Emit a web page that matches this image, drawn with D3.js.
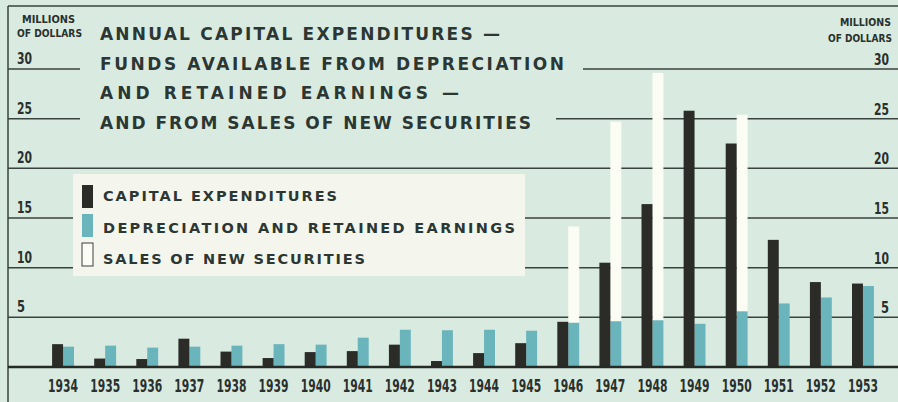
<!DOCTYPE html>
<html>
<head>
<meta charset="utf-8">
<script src="https://cdn.jsdelivr.net/npm/d3@7.9.0/dist/d3.min.js"></script>
<style>
  html, body { margin: 0; padding: 0; background: #d9ebe1; }
  svg { display: block; }
  .num { font-family: "Liberation Sans Narrow", "DejaVu Sans Condensed", sans-serif; font-weight: bold; fill: #2a302d; }
  .caps { font-family: "DejaVu Sans", "Open Sans", sans-serif; font-weight: bold; fill: #2c3733; }
</style>
</head>
<body>
<svg id="chart" width="898" height="402"></svg>
<script>
// values (millions of dollars)
const years = ['1934', '1935', '1936', '1937', '1938', '1939', '1940', '1941', '1942', '1943',
               '1944', '1945', '1946', '1947', '1948', '1949', '1950', '1951', '1952', '1953'];
const capitalExpenditures = [2.3, 0.85, 0.8, 2.85, 1.55, 0.9, 1.5, 1.6, 2.25, 0.6,
                             1.4, 2.4, 4.55, 10.5, 16.4, 25.8, 22.5, 12.8, 8.55, 8.4];
const depreciationRetained = [2.05, 2.15, 1.95, 2.05, 2.15, 2.3, 2.25, 2.95, 3.75, 3.7,
                              3.75, 3.65, 4.45, 4.6, 4.7, 4.35, 5.6, 6.4, 7.0, 8.15];
const newSecurities = [0, 0, 0, 0, 0, 0, 0, 0, 0, 0,
                       0, 0, 9.7, 20.1, 24.9, 0, 19.8, 0, 0, 0];
const yTicks = [5, 10, 15, 20, 25, 30];
const titleLines = [
  'ANNUAL CAPITAL EXPENDITURES \u2014',
  'FUNDS AVAILABLE FROM DEPRECIATION',
  'AND RETAINED EARNINGS \u2014',
  'AND FROM SALES OF NEW SECURITIES'
];
const legendLabels = ['CAPITAL EXPENDITURES', 'DEPRECIATION AND RETAINED EARNINGS', 'SALES OF NEW SECURITIES'];

const colors = { capex: '#2b2b28', dep: '#6ab4bb', sales: '#fbfcf3', line: '#39423e' };

const svg = d3.select('#chart');
const W = 898, H = 402;

const rows = years.map((yr, i) => ({
  year: yr, capex: capitalExpenditures[i], dep: depreciationRetained[i], sales: newSecurities[i]
}));

const x = d3.scaleBand().domain(years).range([42, 884]).paddingInner(0.48).paddingOuter(0.24);
const sub = d3.scaleBand().domain(['capex', 'dep']).range([0, x.bandwidth()]);
const y = d3.scaleLinear().domain([0, 30]).range([367, 69]);

// background
svg.append('rect').attr('width', W).attr('height', H).attr('fill', '#d9ebe1');

// gridlines
svg.append('g').selectAll('line').data(yTicks).join('line')
  .attr('x1', 8).attr('x2', W)
  .attr('y1', d => y(d)).attr('y2', d => y(d))
  .attr('stroke', colors.line).attr('stroke-width', 1.5);

// title block masks the grid behind it
svg.append('rect').attr('x', 80).attr('y', 8).attr('width', 503).attr('height', 92).attr('fill', '#d9ebe1');
svg.append('rect').attr('x', 80).attr('y', 100).attr('width', 476).attr('height', 36).attr('fill', '#d9ebe1');

const titleEnds = [500, 564, 459, 531];
svg.append('g').selectAll('text').data(titleLines).join('text')
  .attr('class', 'caps')
  .attr('x', 100)
  .attr('y', (d, i) => 40 + i * 29.5)
  .attr('font-size', 17)
  .attr('textLength', (d, i) => titleEnds[i] - 100)
  .attr('lengthAdjust', 'spacing')
  .text(d => d);

// stacked depreciation + securities
const stacked = d3.stack().keys(['dep', 'sales'])(rows);

svg.append('g').selectAll('rect').data(stacked[1]).join('rect')
  .attr('x', d => x(d.data.year) + sub('dep'))
  .attr('width', sub.bandwidth())
  .attr('y', d => y(d[1]))
  .attr('height', d => y(d[0]) - y(d[1]))
  .attr('fill', colors.sales);

svg.append('g').selectAll('rect').data(stacked[0]).join('rect')
  .attr('x', d => x(d.data.year) + sub('dep'))
  .attr('width', sub.bandwidth())
  .attr('y', d => y(d[1]))
  .attr('height', d => y(d[0]) - y(d[1]))
  .attr('fill', colors.dep);

svg.append('g').selectAll('rect').data(rows).join('rect')
  .attr('x', d => x(d.year) + sub('capex'))
  .attr('width', sub.bandwidth())
  .attr('y', d => y(d.capex))
  .attr('height', d => y(0) - y(d.capex))
  .attr('fill', colors.capex);

// frame + baseline
svg.append('line').attr('x1', 8).attr('x2', W).attr('y1', 6).attr('y2', 6)
  .attr('stroke', colors.line).attr('stroke-width', 1.5);
svg.append('line').attr('x1', 8).attr('x2', 8).attr('y1', 6).attr('y2', H)
  .attr('stroke', colors.line).attr('stroke-width', 1.5);
svg.append('line').attr('x1', 8).attr('x2', W).attr('y1', y(0)).attr('y2', y(0))
  .attr('stroke', '#262a27').attr('stroke-width', 2.5);

// y labels, both sides
svg.append('g').selectAll('text').data(yTicks).join('text')
  .attr('class', 'num').attr('font-size', 16)
  .attr('x', 17).attr('y', d => y(d) - 5)
  .attr('textLength', d => d < 10 ? 8 : 15).attr('lengthAdjust', 'spacingAndGlyphs')
  .text(d => d);
svg.append('g').selectAll('text').data(yTicks).join('text')
  .attr('class', 'num').attr('font-size', 16)
  .attr('text-anchor', 'end')
  .attr('x', 889).attr('y', d => y(d) - 4)
  .attr('textLength', d => d < 10 ? 8 : 15).attr('lengthAdjust', 'spacingAndGlyphs')
  .text(d => d);

svg.append('text').attr('class', 'num').attr('font-size', 10.5)
  .attr('x', 22).attr('y', 23).attr('textLength', 53).attr('lengthAdjust', 'spacingAndGlyphs').text('MILLIONS');
svg.append('text').attr('class', 'num').attr('font-size', 10.5)
  .attr('x', 17).attr('y', 37).attr('textLength', 65).attr('lengthAdjust', 'spacingAndGlyphs').text('OF DOLLARS');
svg.append('text').attr('class', 'num').attr('font-size', 10.5)
  .attr('x', 840).attr('y', 26).attr('textLength', 51).attr('lengthAdjust', 'spacingAndGlyphs').text('MILLIONS');
svg.append('text').attr('class', 'num').attr('font-size', 10.5)
  .attr('x', 828).attr('y', 42).attr('textLength', 64).attr('lengthAdjust', 'spacingAndGlyphs').text('OF DOLLARS');

// year labels
svg.append('g').selectAll('text').data(years).join('text')
  .attr('class', 'num').attr('font-size', 18)
  .attr('text-anchor', 'middle')
  .attr('x', d => x(d) + x.bandwidth() / 2)
  .attr('y', 392)
  .attr('textLength', 30).attr('lengthAdjust', 'spacingAndGlyphs')
  .text(d => d);

// legend
const legend = svg.append('g');
legend.append('rect').attr('x', 73).attr('y', 174).attr('width', 452).attr('height', 102).attr('fill', '#f4f6ee');
const legendFill = [colors.capex, colors.dep, colors.sales];
const legendEnds = [337, 515, 365];
legend.selectAll('.sw').data(legendLabels).join('rect')
  .attr('class', 'sw')
  .attr('x', 82).attr('y', (d, i) => 185 + i * 29)
  .attr('width', 11).attr('height', 23)
  .attr('fill', (d, i) => legendFill[i])
  .attr('stroke', (d, i) => i === 2 ? '#3a3f3c' : 'none')
  .attr('stroke-width', 1);
legend.selectAll('.lb').data(legendLabels).join('text')
  .attr('class', 'lb caps')
  .attr('x', 103).attr('y', (d, i) => 201 + i * 31.5)
  .attr('font-size', 14.5)
  .attr('textLength', (d, i) => legendEnds[i] - 103)
  .attr('lengthAdjust', 'spacing')
  .text(d => d);
</script>
</body>
</html>
